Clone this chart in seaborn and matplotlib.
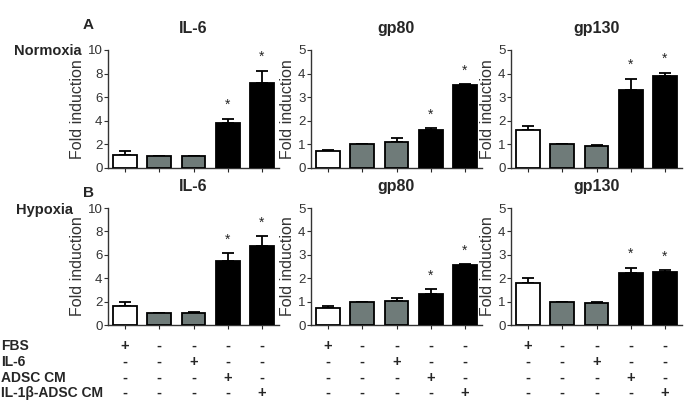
import matplotlib
matplotlib.use("Agg")
import matplotlib.pyplot as plt
import matplotlib.transforms as mtransforms
import seaborn as sns
import numpy as np
import pandas as pd

sns.set_style("ticks")
plt.rcParams['font.family'] = ['Liberation Sans', 'DejaVu Sans']

conditions = ["FBS", "IL-6 only", "IL-6", "ADSC CM", "IL-1β-ADSC CM"]
bar_colors = ["white", "#6d7d7a", "#6d7d7a", "black", "black"]
genes = ["IL-6", "gp80", "gp130"]
ymax = {"IL-6": 10, "gp80": 5, "gp130": 5}
ystep = {"IL-6": 2, "gp80": 1, "gp130": 1}

# normoxia means / sem
norm_mean = {"IL-6": [1.1, 1.0, 1.0, 3.8, 7.2],
             "gp80": [0.72, 1.0, 1.12, 1.62, 3.52],
             "gp130": [1.6, 1.0, 0.95, 3.3, 3.9]}
norm_err = {"IL-6": [0.3, 0.0, 0.0, 0.35, 1.05],
            "gp80": [0.03, 0.0, 0.15, 0.06, 0.03],
            "gp130": [0.2, 0.0, 0.03, 0.48, 0.13]}
# hypoxia means / sem
hyp_mean = {"IL-6": [1.63, 1.0, 1.05, 5.43, 6.71],
            "gp80": [0.71, 1.0, 1.03, 1.33, 2.57],
            "gp130": [1.79, 1.0, 0.92, 2.22, 2.25]}
hyp_err = {"IL-6": [0.3, 0.0, 0.1, 0.7, 0.86],
           "gp80": [0.12, 0.0, 0.11, 0.2, 0.02],
           "gp130": [0.21, 0.0, 0.06, 0.21, 0.08]}
# significant bars (index)
stars = [3, 4]

treat_rows = ["FBS", "IL-6", "ADSC CM", "IL-1β-ADSC CM"]
treat_marks = [["+", "-", "-", "-", "-"],
               ["-", "-", "+", "-", "-"],
               ["-", "-", "-", "+", "-"],
               ["-", "-", "-", "-", "+"]]

fig = plt.figure(figsize=(6.85, 4.05), dpi=100)
W, H = 685, 405
lefts = [108, 311, 511]
panel_w = 171
rows = [(168, 50), (325, 208)]  # (bottom px, top px)


def draw_panel(ax, gene, mean, err):
    df = pd.DataFrame({"cond": conditions, "val": mean})
    sns.barplot(data=df, x="cond", y="val", hue="cond", palette=bar_colors,
                legend=False, edgecolor="black", linewidth=1.3, width=0.7,
                errorbar=None, ax=ax, zorder=3)
    xs = np.arange(len(mean))
    ax.errorbar(xs, mean, yerr=[np.zeros(len(err)), err], fmt="none",
                ecolor="black", elinewidth=1.3, capsize=4, capthick=1.3, zorder=2)
    for i in stars:
        ax.annotate("*", xy=(i, mean[i] + err[i]), xytext=(0, 10),
                    textcoords="offset points", ha="center", va="center",
                    fontsize=10)
    ax.set_xlim(-0.5, 4.5)
    ax.set_ylim(0, ymax[gene])
    ax.set_yticks(np.arange(0, ymax[gene] + 0.1, ystep[gene]))
    ax.set_xticks(xs)
    ax.set_xticklabels([])
    ax.set_xlabel("")
    ax.set_ylabel("Fold induction", fontsize=11.5, color="#333333", labelpad=2)
    ax.tick_params(axis="y", labelsize=9.5, length=3, pad=1, colors="#333333")
    ax.tick_params(axis="x", length=3)
    ax.set_title(gene, fontsize=11.5, fontweight="bold", pad=12)
    sns.despine(ax=ax)
    for s in ["left", "bottom"]:
        ax.spines[s].set_linewidth(1.0)
        ax.spines[s].set_color("#333333")


axes_bottom = []
for r, (data_m, data_e) in enumerate([(norm_mean, norm_err), (hyp_mean, hyp_err)]):
    b, t = rows[r]
    for j, gene in enumerate(genes):
        ax = fig.add_axes([lefts[j] / W, 1 - b / H, panel_w / W, (b - t) / H])
        draw_panel(ax, gene, data_m[gene], data_e[gene])
        if r == 1:
            axes_bottom.append(ax)

fig.text(88 / W, 1 - 25 / H, "A", fontsize=11, fontweight="bold", ha="center", va="center")
fig.text(88 / W, 1 - 193 / H, "B", fontsize=11, fontweight="bold", ha="center", va="center")
fig.text(14 / W, 1 - 51 / H, "Normoxia", fontsize=10.5, fontweight="bold", ha="left", va="center")
fig.text(16 / W, 1 - 210 / H, "Hypoxia", fontsize=10.5, fontweight="bold", ha="left", va="center")

row_y = [346, 362, 378, 393]
for k, label in enumerate(treat_rows):
    y = 1 - row_y[k] / H
    fig.text(1 / W, y, label, fontsize=10, fontweight="bold", ha="left", va="center")
    for ax in axes_bottom:
        trans = mtransforms.blended_transform_factory(ax.transData, fig.transFigure)
        for i, m in enumerate(treat_marks[k]):
            fig.text(i, y, m, transform=trans, fontsize=10.5, fontweight="bold",
                     ha="center", va="center")

fig.savefig("out.png", dpi=100)
